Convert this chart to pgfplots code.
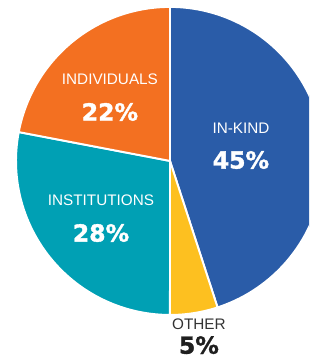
\documentclass[border=0pt]{standalone}
\usepackage{pgfplots}
\pgfplotsset{compat=1.18}
\usepackage{fontspec}
\setmainfont{Liberation Sans}
\newfontfamily\pctfont{DejaVu Sans}[FakeBold=1.5]
\definecolor{inkind}{HTML}{2A5CA8}
\definecolor{other}{HTML}{FDC020}
\definecolor{institutions}{HTML}{00A0B4}
\definecolor{individuals}{HTML}{F37021}
\begin{document}
\begin{tikzpicture}
% shares in percent
\def\vInKind{45}
\def\vOther{5}
\def\vInstitutions{28}
\def\vIndividuals{22}
\pgfmathsetmacro\aA{90}
\pgfmathsetmacro\aB{\aA-3.6*\vInKind}
\pgfmathsetmacro\aC{\aB-3.6*\vOther}
\pgfmathsetmacro\aD{\aC-3.6*\vInstitutions}
\pgfmathsetmacro\aE{\aD-3.6*\vIndividuals}
\begin{axis}[scale only axis, width=6.18cm, height=7.14cm,
  xmin=-1.104, xmax=0.903, ymin=-1.273, ymax=1.045,
  hide axis, clip=true]
\addplot[fill=inkind, draw=white, line width=1.1pt, domain=\aB:\aA, samples=90] ({cos(x)},{sin(x)}) -- (axis cs:0,0) -- cycle;
\addplot[fill=other, draw=white, line width=1.1pt, domain=\aC:\aB, samples=20] ({cos(x)},{sin(x)}) -- (axis cs:0,0) -- cycle;
\addplot[fill=institutions, draw=white, line width=1.1pt, domain=\aD:\aC, samples=60] ({cos(x)},{sin(x)}) -- (axis cs:0,0) -- cycle;
\addplot[fill=individuals, draw=white, line width=1.1pt, domain=\aE:\aD, samples=50] ({cos(x)},{sin(x)}) -- (axis cs:0,0) -- cycle;
\node[white, font=\fontsize{8.7}{10}\selectfont] at (axis cs:0.461,0.214) {IN-KIND};
\node[white, font=\pctfont\bfseries\fontsize{13.4}{15}\selectfont] at (axis cs:0.461,0.006) {45\%};
\node[white, font=\fontsize{8.7}{10}\selectfont] at (axis cs:-0.390,0.532) {INDIVIDUALS};
\node[white, font=\pctfont\bfseries\fontsize{13.4}{15}\selectfont] at (axis cs:-0.390,0.318) {22\%};
\node[white, font=\fontsize{8.7}{10}\selectfont] at (axis cs:-0.448,-0.253) {INSTITUTIONS};
\node[white, font=\pctfont\bfseries\fontsize{13.4}{15}\selectfont] at (axis cs:-0.448,-0.468) {28\%};
\node[black!80, font=\fontsize{8.7}{10}\selectfont] at (axis cs:0.188,-1.062) {OTHER};
\node[black!88, font=\pctfont\bfseries\fontsize{13.4}{15}\selectfont] at (axis cs:0.188,-1.196) {5\%};
\end{axis}
\pgfresetboundingbox
\useasboundingbox (current axis.south west) rectangle (current axis.north east);
\end{tikzpicture}
\end{document}
